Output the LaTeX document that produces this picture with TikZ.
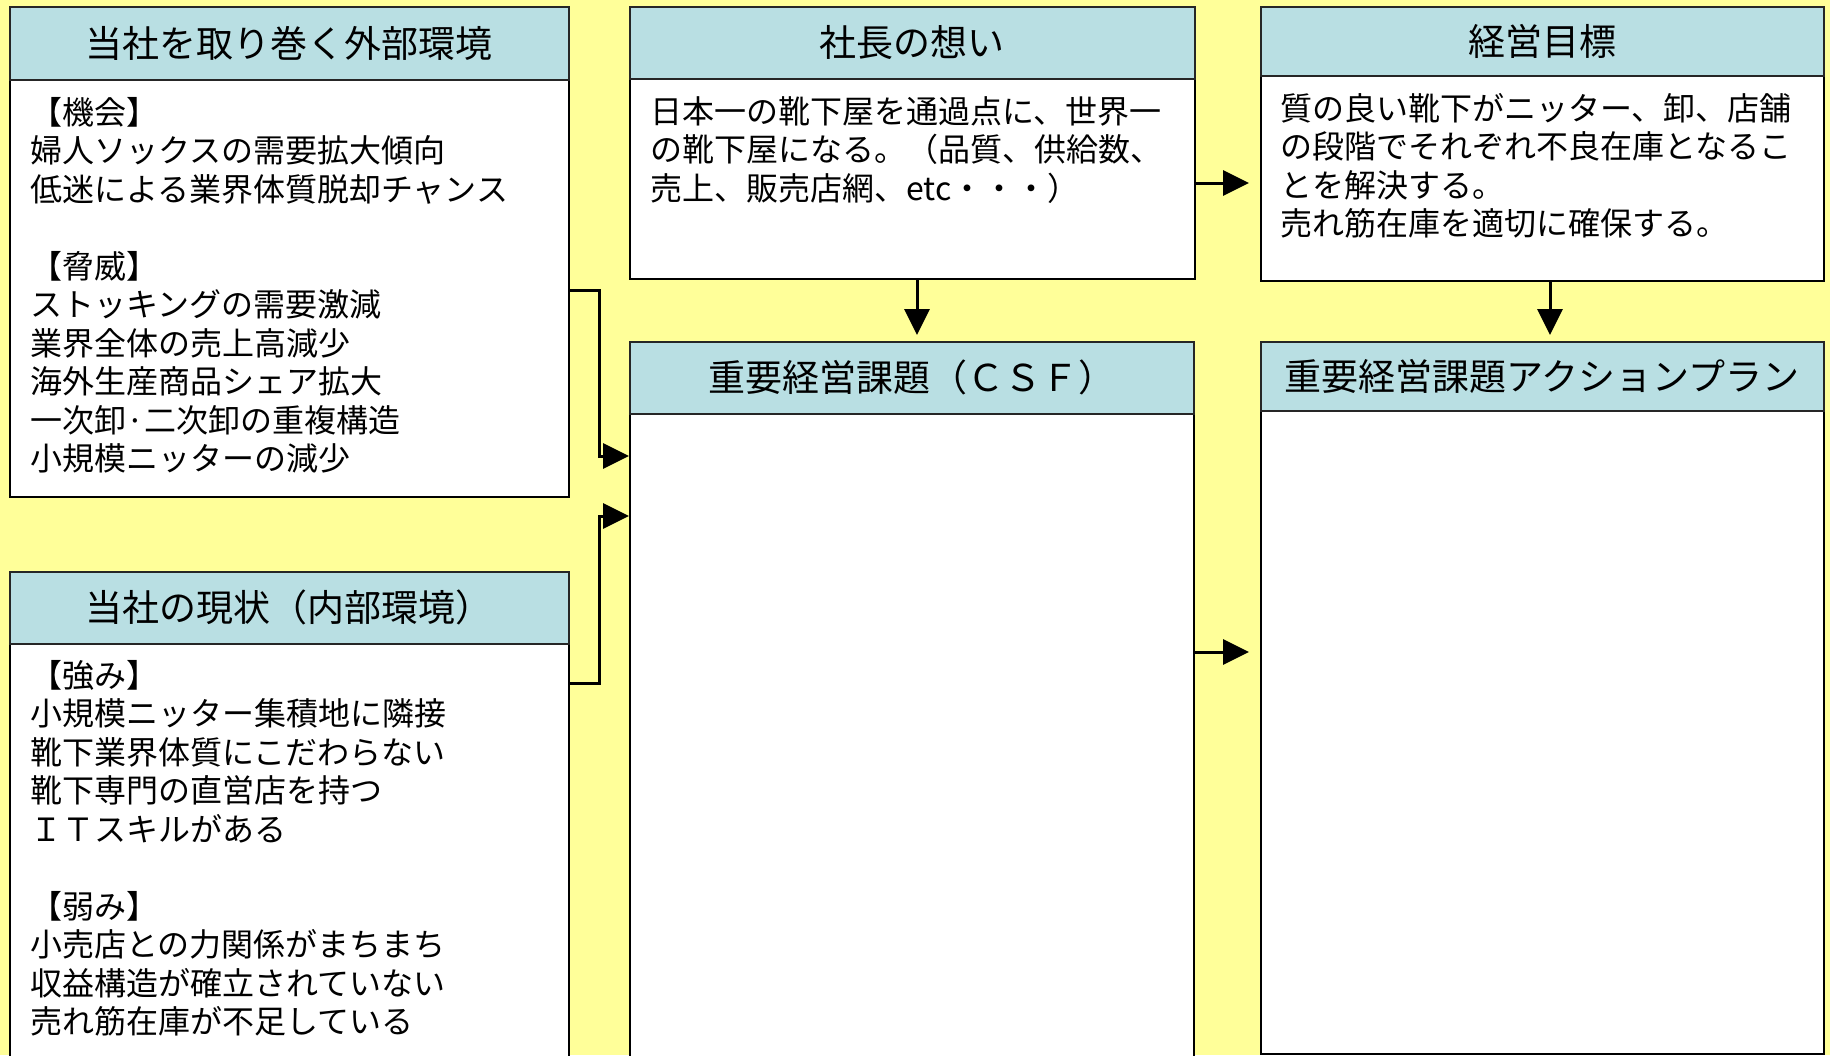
\documentclass[tikz,border=0pt]{standalone}
\usepackage{fontspec}
\setmainfont{Noto Sans CJK JP}
\usetikzlibrary{arrows.meta}
\definecolor{bgyellow}{RGB}{255,255,153}
\definecolor{headblue}{RGB}{185,223,227}
\newcommand{\hdfont}{\fontsize{37}{44}\selectfont}
\newcommand{\bdfont}{\fontsize{32}{38.5}\selectfont}
\tikzset{
  frame/.style={draw=black, line width=1.6pt, fill=white, inner sep=0pt, anchor=north west, rectangle},
  head/.style={draw=black!85, line width=1.6pt, fill=headblue, inner sep=0pt, anchor=north west, rectangle, font=\hdfont},
  bodytext/.style={anchor=north west, align=left, inner sep=0pt, font=\bdfont},
  conn/.style={line width=3pt, -{Triangle[length=26pt,width=25pt]}},
}
\begin{document}
\begin{tikzpicture}[x=1pt,y=-1pt]
\useasboundingbox (0,0) rectangle (1830,1055);
\clip (0,0) rectangle (1830,1055);
\fill[bgyellow] (0,0) rectangle (1830,1055);

% boxes
\node[frame, minimum width=559pt, minimum height=490pt] (ext) at (9,6) {};
\node[head, minimum width=559pt, minimum height=73pt] (extH) at (ext.north west) {当社を取り巻く外部環境};
\node[frame, minimum width=559pt, minimum height=600pt] (int) at (9,571) {};
\node[head, minimum width=559pt, minimum height=72pt] (intH) at (int.north west) {当社の現状（内部環境）};
\node[frame, minimum width=565pt, minimum height=272pt] (wish) at (629,6) {};
\node[head, minimum width=565pt, minimum height=72pt] (wishH) at (wish.north west) {社長の想い};
\node[frame, minimum width=564pt, minimum height=800pt] (csf) at (629,341) {};
\node[head, minimum width=564pt, minimum height=72pt] (csfH) at (csf.north west) {重要経営課題（ＣＳＦ）};
\node[frame, minimum width=563pt, minimum height=274pt] (goal) at (1260,6) {};
\node[head, minimum width=563pt, minimum height=69pt] (goalH) at (goal.north west) {経営目標};
\node[frame, minimum width=563pt, minimum height=712pt] (plan) at (1260,341) {};
\node[head, minimum width=563pt, minimum height=69pt] (planH) at (plan.north west) {重要経営課題アクションプラン};

% body texts
\node[bodytext] (extT) at (30,97) {【機会】\\婦人ソックスの需要拡大傾向\\低迷による業界体質脱却チャンス\\\mbox{}\\【脅威】\\ストッキングの需要激減\\業界全体の売上高減少\\海外生産商品シェア拡大\\一次卸·二次卸の重複構造\\小規模ニッターの減少};
\node[bodytext] (intT) at (30,660) {【強み】\\小規模ニッター集積地に隣接\\靴下業界体質にこだわらない\\靴下専門の直営店を持つ\\ＩＴスキルがある\\\mbox{}\\【弱み】\\小売店との力関係がまちまち\\収益構造が確立されていない\\売れ筋在庫が不足している};
\node[bodytext] (wishT) at (650,96) {日本一の靴下屋を通過点に、世界一\\の靴下屋になる。（品質、供給数、\\売上、販売店網、etc・・・）};
\node[bodytext] (goalT) at (1280,93) {質の良い靴下がニッター、卸、店舗\\の段階でそれぞれ不良在庫となるこ\\とを解決する。\\売れ筋在庫を適切に確保する。};

% connector points
\coordinate (j1a) at (599,290);
\coordinate (j1b) at (599,456);
\coordinate (j2a) at (599,683);
\coordinate (j2b) at (599,516);
\coordinate (t3) at (917,335);
\coordinate (t4) at (1249,183);
\coordinate (t5) at (1550,335);
\coordinate (t6) at (1249,652);

% connectors
\draw[conn] (ext.east |- j1a) -- (j1a) -- (j1b) -- (j1b -| csf.west);
\draw[conn] (int.east |- j2a) -- (j2a) -- (j2b) -- (j2b -| csf.west);
\draw[conn] (wish.south -| t3) -- (t3);
\draw[conn] (wish.east |- t4) -- (t4);
\draw[conn] (goal.south -| t5) -- (t5);
\draw[conn] (csf.east |- t6) -- (t6);
\end{tikzpicture}
\end{document}
